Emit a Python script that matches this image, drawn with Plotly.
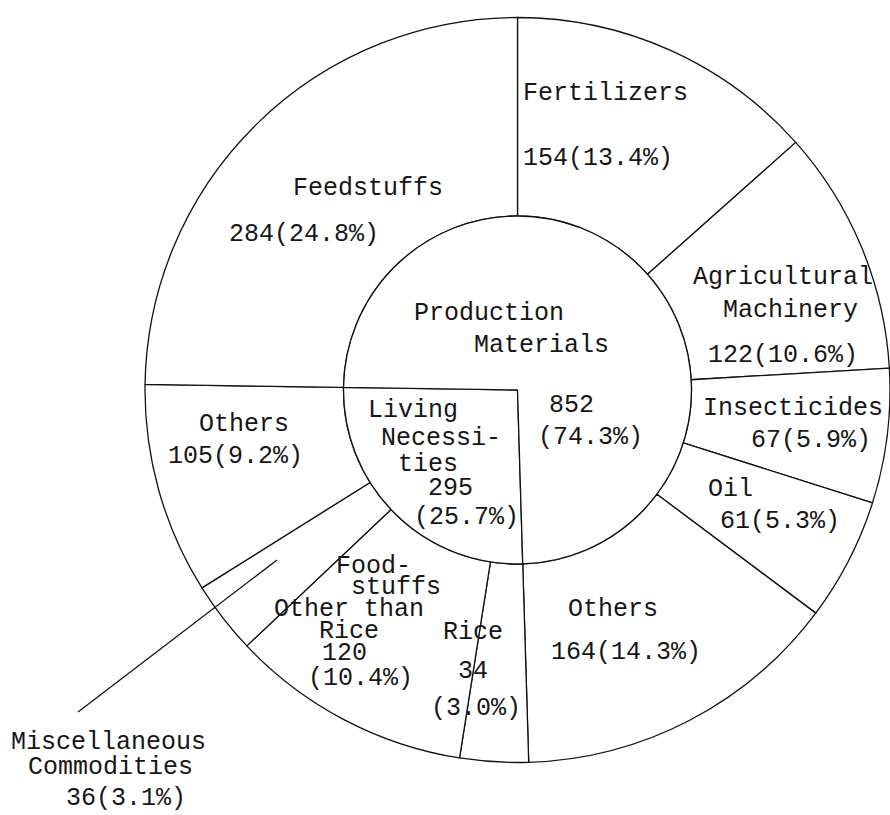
import plotly.graph_objects as go

# ---- data -------------------------------------------------------------
# outer ring, clockwise from 12 o'clock
outer_names = ["Fertilizers", "Agricultural Machinery", "Insecticides", "Oil",
               "Others (production)", "Rice", "Foodstuffs Other than Rice",
               "Miscellaneous Commodities", "Others (living)", "Feedstuffs"]
outer_values = [154, 122, 67, 61, 164, 34, 120, 36, 105, 284]
outer_pcts = ["13.4", "10.6", "5.9", "5.3", "14.3", "3.0", "10.4", "3.1", "9.2", "24.8"]
outer_wrapped = ["Fertilizers", "Agricultural<br>Machinery", "Insecticides", "Oil",
                 "Others", "Rice", "Food-<br>stuffs<br>Other than<br>Rice",
                 "Miscellaneous<br>Commodities", "Others", "Feedstuffs"]

# inner circle
inner_names = ["Living Necessities", "Production Materials"]
inner_values = [295, 852]
inner_pcts = ["25.7", "74.3"]
inner_wrapped = ["Living<br>Necessi-<br>ties", "Production<br>Materials"]

# ---- layout -----------------------------------------------------------
W, H = 890, 815
CX, CY = 517.5, 390.0      # centre of both circles (px)
R_OUT, R_IN = 372.5, 174.0

# label line anchors (left edge, vertical middle) in px, one per text line
outer_pos = [
    [(521, 93), (521, 158)],
    [(691, 277), (721, 310), (706, 356)],
    [(701, 408), (749, 440)],
    [(706, 489), (718, 521)],
    [(566, 609), (549, 652)],
    [(441, 632), (456, 671), (429, 708)],
    [(334, 566), (349, 587), (272, 609), (317, 631), (320, 653), (306, 678)],
    [(9, 742), (26, 767), (64, 798)],
    [(197, 424), (166, 456)],
    [(291, 188), (227, 234)],
]
inner_pos = [
    [(366, 410), (379, 438), (396, 464), (426, 488), (412, 517)],
    [(412, 313), (472, 345), (547, 405), (536, 437)],
]
leader = [(277, 560), (78, 712)]   # callout for the small slice

FONT = dict(family="Liberation Mono, Courier New, monospace", size=25, color="#161616")
LINE = dict(color="#111111", width=1.3)


def px(x):
    return x / W


def py(y):
    return 1 - y / H


def domain(r):
    return dict(x=[max(0.0, px(CX - r)), min(1.0, px(CX + r))],
                y=[py(CY + r), py(CY - r)])


total = sum(outer_values)
# the inner circle starts where the living-necessities part of the ring begins
living_start = 360.0 * sum(outer_values[:5]) / total

fig = go.Figure()
fig.add_trace(go.Pie(
    labels=outer_names, values=outer_values, sort=False, direction="clockwise",
    rotation=0, hole=R_IN / R_OUT, domain=domain(R_OUT),
    marker=dict(colors=["white"] * len(outer_values), line=LINE),
    textinfo="none", hoverinfo="label+value", showlegend=False,
))
fig.add_trace(go.Pie(
    labels=inner_names, values=inner_values, sort=False, direction="clockwise",
    rotation=living_start, domain=domain(R_IN),
    marker=dict(colors=["white"] * len(inner_values), line=LINE),
    textinfo="none", hoverinfo="label+value", showlegend=False,
))


def text_lines(wrapped, value, pct, n_slots):
    lines = wrapped.split("<br>")
    if n_slots - len(lines) == 2:
        lines += [f"{value}", f"({pct}%)"]
    else:
        lines += [f"{value}({pct}%)"]
    return lines


annotations = []
for wrapped, v, p, pos in list(zip(outer_wrapped, outer_values, outer_pcts, outer_pos)) + \
        list(zip(inner_wrapped, inner_values, inner_pcts, inner_pos)):
    for line, (x, y) in zip(text_lines(wrapped, v, p, len(pos)), pos):
        annotations.append(dict(
            text=line, x=px(x), y=py(y), xref="paper", yref="paper",
            xanchor="left", yanchor="middle", showarrow=False, font=FONT,
        ))

fig.update_layout(
    width=W, height=H, margin=dict(l=0, r=0, t=0, b=0),
    paper_bgcolor="white", plot_bgcolor="white",
    annotations=annotations,
    shapes=[dict(type="line", xref="paper", yref="paper",
                 x0=px(leader[0][0]), y0=py(leader[0][1]),
                 x1=px(leader[1][0]), y1=py(leader[1][1]), line=LINE)],
)

fig.write_html("out.html")
